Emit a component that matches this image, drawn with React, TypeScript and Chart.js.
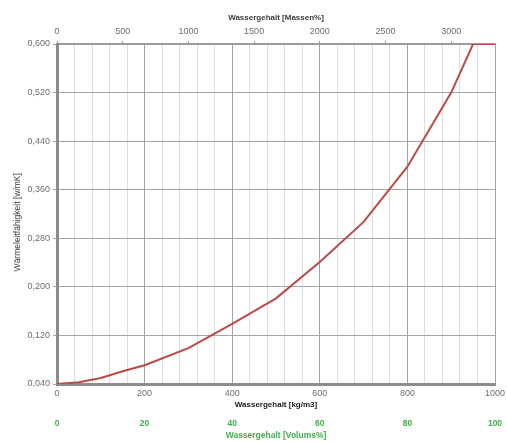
import React, { useEffect, useRef } from "react";
import { Chart, registerables } from "chart.js";

Chart.register(...registerables);

// Data
const waterKg: number[] = [0, 50, 100, 150, 200, 300, 400, 500, 600, 700, 800, 900, 950, 1000];
const conductivity: number[] = [0.04, 0.043, 0.05, 0.061, 0.071, 0.099, 0.139, 0.181, 0.241, 0.307, 0.398, 0.52, 0.6, 0.6];

// Axis ticks
const yTicks: number[] = [0.04, 0.12, 0.2, 0.28, 0.36, 0.44, 0.52, 0.6];
const xMinorTicks: number[] = [0, 40, 80, 120, 160, 200, 240, 280, 320, 360, 400, 440, 480, 520, 560, 600, 640, 680, 720, 760, 800, 840, 880, 920, 960, 1000];
const xLabelTicks: number[] = [0, 200, 400, 600, 800, 1000];
const massTicks: number[] = [0, 500, 1000, 1500, 2000, 2500, 3000];
const massMax = 3333;
const volumeTicks: number[] = [0, 20, 40, 60, 80, 100];

const FONT = "'Liberation Sans', Arial, sans-serif";

const noSidePad = (s: any) => {
  s.paddingLeft = 0;
  s.paddingRight = 0;
};

export default function App() {
  const ref = useRef<HTMLCanvasElement | null>(null);

  useEffect(() => {
    if (!ref.current) return;
    const chart = new Chart(ref.current, {
      type: "line",
      data: {
        datasets: [
          {
            data: waterKg.map((x, i) => ({ x, y: conductivity[i] })),
            borderColor: "#b94a48",
            borderWidth: 2,
            pointRadius: 0,
            tension: 0,
            xAxisID: "x",
            yAxisID: "y",
          },
        ],
      },
      options: {
        animation: false,
        responsive: true,
        maintainAspectRatio: false,
        layout: { padding: { left: 0, right: 12, top: 0, bottom: 0 } },
        plugins: { legend: { display: false }, tooltip: { enabled: false } },
        scales: {
          x: {
            type: "linear",
            position: "bottom",
            min: 0,
            max: 1000,
            weight: 0,
            afterBuildTicks: (s: any) => {
              s.ticks = xMinorTicks.map((v) => ({ value: v }));
            },
            afterFit: (s: any) => {
              s.height = 28;
              noSidePad(s);
            },
            grid: {
              color: (c: any) => (xLabelTicks.includes(c.tick?.value) ? "#a3a3a3" : "#dedede"),
              lineWidth: 1,
              drawTicks: false,
            },
            border: { color: "#8c8c8c", width: 3 },
            ticks: {
              autoSkip: false,
              maxRotation: 0,
              padding: 4,
              color: "#6e6e6e",
              font: { family: FONT, size: 9 },
              callback: (v: any) => (xLabelTicks.includes(Number(v)) ? String(v) : ""),
            },
            title: {
              display: true,
              text: "Wassergehalt [kg/m3]",
              color: "#1a1a1a",
              font: { family: FONT, size: 8, weight: "bold" },
              padding: { top: 0, bottom: 2 },
            },
          },
          x3: {
            type: "linear",
            position: "bottom",
            min: 0,
            max: 100,
            weight: 1,
            afterBuildTicks: (s: any) => {
              s.ticks = volumeTicks.map((v) => ({ value: v }));
            },
            afterFit: (s: any) => {
              s.height = 30;
              noSidePad(s);
            },
            grid: { display: false, drawTicks: false },
            border: { display: false },
            ticks: {
              autoSkip: false,
              maxRotation: 0,
              padding: 7,
              color: "#3fae49",
              font: { family: FONT, size: 8.5, weight: "bold" },
              callback: (v: any) => String(v),
            },
            title: {
              display: true,
              text: "Wassergehalt [Volums%]",
              color: "#3fae49",
              font: { family: FONT, size: 8.5, weight: "bold" },
              padding: { top: 0, bottom: 1 },
            },
          },
          x2: {
            type: "linear",
            position: "top",
            min: 0,
            max: massMax,
            afterBuildTicks: (s: any) => {
              s.ticks = massTicks.map((v) => ({ value: v }));
            },
            afterFit: (s: any) => {
              s.height = 44;
              noSidePad(s);
            },
            grid: {
              display: true,
              drawOnChartArea: false,
              drawTicks: true,
              tickLength: 3,
              color: "#9a9a9a",
            },
            border: { color: "#9a9a9a", width: 2 },
            ticks: {
              autoSkip: false,
              maxRotation: 0,
              padding: 4,
              color: "#6e6e6e",
              font: { family: FONT, size: 9 },
              callback: (v: any) => String(v),
            },
            title: {
              display: true,
              text: "Wassergehalt [Massen%]",
              color: "#3a3a3a",
              font: { family: FONT, size: 8, weight: "bold" },
              padding: { top: 13, bottom: 0 },
            },
          },
          y: {
            type: "linear",
            position: "left",
            min: 0.04,
            max: 0.6,
            afterBuildTicks: (s: any) => {
              s.ticks = yTicks.map((v) => ({ value: v }));
            },
            afterFit: (s: any) => {
              s.width = 57;
            },
            grid: {
              color: "#a6a6a6",
              lineWidth: 1,
              drawTicks: true,
              tickLength: 4,
            },
            border: { color: "#8c8c8c", width: 3 },
            ticks: {
              autoSkip: false,
              padding: 3,
              color: "#6e6e6e",
              font: { family: FONT, size: 9 },
              callback: (v: any) => Number(v).toFixed(3).replace(".", ","),
            },
            title: {
              display: true,
              text: "Wärmeleitfähigkeit [w/mK]       ",
              color: "#3a3a3a",
              font: { family: FONT, size: 8.5 },
              padding: { top: 13, bottom: 0 },
            },
          },
        },
      },
    });
    return () => chart.destroy();
  }, []);

  return (
    <div
      style={{
        position: "fixed",
        left: 0,
        top: 0,
        width: 507,
        height: 442,
        background: "#ffffff",
      }}
    >
      <canvas ref={ref} />
    </div>
  );
}
